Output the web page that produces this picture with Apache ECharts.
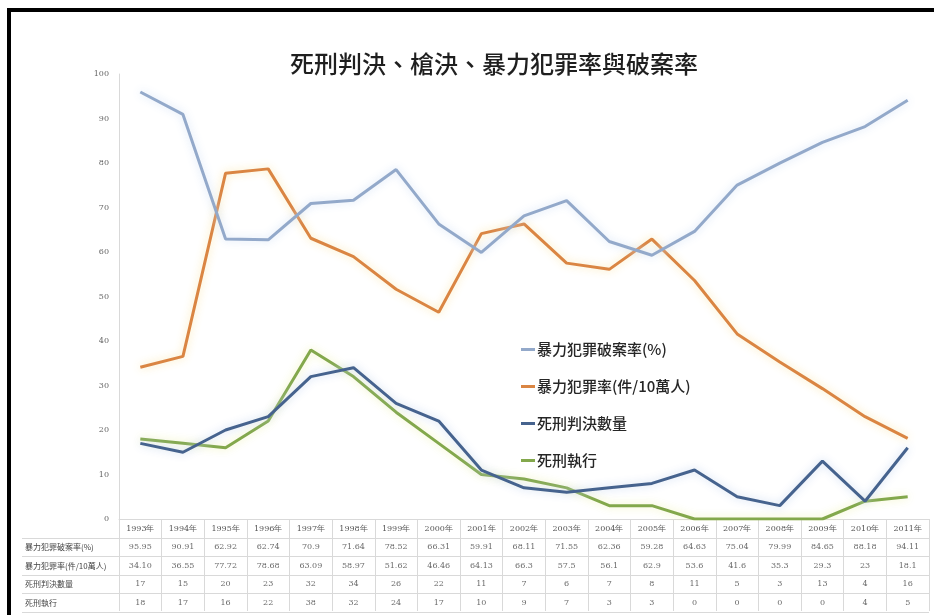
<!DOCTYPE html>
<html>
<head>
<meta charset="utf-8">
<script src="https://cdn.jsdelivr.net/npm/echarts@6/dist/echarts.min.js"></script>
<style>
  html, body { margin: 0; padding: 0; background: #fff; }
  #chart { position: absolute; left: 0; top: 0; width: 934px; height: 615px; }
  #frame { position: absolute; left: 7px; top: 8px; width: 930px; height: 610px;
           border-left: 4px solid #000; border-top: 4px solid #000; pointer-events: none; }
</style>
</head>
<body>
<div id="chart"></div>
<div id="frame"></div>
<script>
// ---- data ----
const years = ['1993年','1994年','1995年','1996年','1997年','1998年','1999年','2000年','2001年','2002年',
               '2003年','2004年','2005年','2006年','2007年','2008年','2009年','2010年','2011年'];
const seriesNames = ['暴力犯罪破案率(%)', '暴力犯罪率(件/10萬人)', '死刑判決數量', '死刑執行'];
const clearanceRate = ['95.95','90.91','62.92','62.74','70.9','71.64','78.52','66.31','59.91','68.11',
                       '71.55','62.36','59.28','64.63','75.04','79.99','84.65','88.18','94.11'];
const crimeRate = ['34.10','36.55','77.72','78.68','63.09','58.97','51.62','46.46','64.13','66.3',
                   '57.5','56.1','62.9','53.6','41.6','35.3','29.3','23','18.1'];
const deathSentences = ['17','15','20','23','32','34','26','22','11','7','6','7','8','11','5','3','13','4','16'];
const executions = ['18','17','16','22','38','32','24','17','10','9','7','3','3','0','0','0','0','4','5'];
const yTicks = { min: 0, max: 100, interval: 10 };

const colors = ['#93A9CA', '#DA8543', '#46638E', '#83A84C'];
const glow = ['rgba(205,222,245,0.9)', 'rgba(250,228,165,0.9)', 'rgba(195,212,240,0.9)', 'rgba(238,242,175,0.9)'];
const allRows = [clearanceRate, crimeRate, deathSentences, executions];

// table cells built from the arrays
const cells = [];
allRows.forEach((row, r) => row.forEach((v, c) => cells.push([c, r, v])));

const font = '"Noto Sans CJK TC", "Noto Sans", sans-serif';
const gridLine = '#d9d9d9';

const chart = echarts.init(document.getElementById('chart'), null, { renderer: 'canvas' });
chart.setOption({
  animation: false,
  backgroundColor: '#fff',
  title: {
    text: '死刑判決、槍決、暴力犯罪率與破案率',
    left: 489, top: 47, textAlign: 'center',
    textStyle: { fontFamily: font, fontSize: 24, fontWeight: 500, color: '#1f1f1f' }
  },
  legend: {
    orient: 'vertical', left: 516, top: 337,
    itemWidth: 14, itemHeight: 3, itemGap: 22,
    icon: 'rect',
    data: seriesNames,
    textStyle: { fontFamily: font, fontSize: 15, color: '#262626', fontWeight: 500, padding: [0, 0, 0, -3] }
  },
  grid: [
    { left: 119, right: 5, top: 74, bottom: 96 },
    { left: 119, right: 5, top: 538, height: 74 }
  ],
  xAxis: [
    {
      type: 'category', gridIndex: 0, data: years, boundaryGap: true,
      axisLine: { lineStyle: { color: gridLine } },
      axisTick: { show: true, interval: 0, length: 92, lineStyle: { color: gridLine } },
      axisLabel: { interval: 0, fontSize: 8, color: '#555', margin: 6, fontFamily: 'DejaVu Serif, serif' }
    },
    {
      type: 'category', gridIndex: 1, data: years, show: false
    }
  ],
  yAxis: [
    {
      type: 'value', gridIndex: 0, min: yTicks.min, max: yTicks.max, interval: yTicks.interval,
      axisLine: { show: true, lineStyle: { color: gridLine } },
      axisTick: { show: false },
      splitLine: { show: false },
      axisLabel: { fontSize: 8, color: '#666', margin: 10, fontFamily: 'DejaVu Serif, serif' }
    },
    {
      type: 'category', gridIndex: 1, inverse: true, data: seriesNames,
      axisLine: { show: false },
      axisTick: { show: true, interval: 0, length: 97, lineStyle: { color: gridLine } },
      splitLine: { show: true, interval: 0, lineStyle: { color: gridLine } },
      axisLabel: { interval: 0, align: 'left', margin: 94, fontSize: 8, color: '#444', fontFamily: font }
    }
  ],
  series: seriesNames.map((name, i) => ({
    name, type: 'line', xAxisIndex: 0, yAxisIndex: 0,
    data: allRows[i], symbol: 'none', smooth: false,
    lineStyle: { width: 3, color: colors[i], shadowColor: glow[i], shadowBlur: 8 },
    itemStyle: { color: colors[i] },
    z: 3 + (3 - i)
  })).concat([{
    type: 'scatter', xAxisIndex: 1, yAxisIndex: 1, silent: true,
    data: cells, symbolSize: 1, itemStyle: { color: 'rgba(0,0,0,0)' },
    label: { show: true, position: 'inside', formatter: p => p.data[2],
             fontSize: 8, color: '#444', fontFamily: 'DejaVu Serif, serif' }
  }])
});
</script>
</body>
</html>
